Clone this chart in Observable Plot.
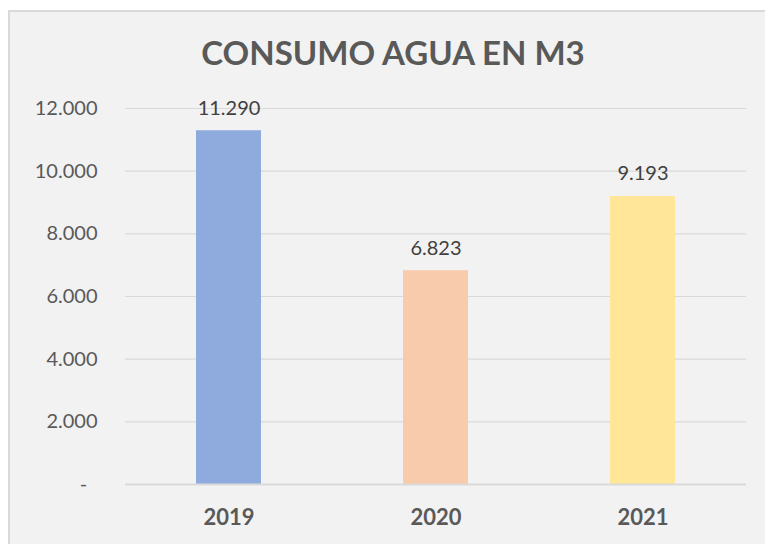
<!DOCTYPE html>
<html>
<head>
<meta charset="utf-8">
<script src="https://cdn.jsdelivr.net/npm/d3@7"></script>
<script src="https://cdn.jsdelivr.net/npm/@observablehq/plot@0.6"></script>
<style>
  html, body { margin: 0; padding: 0; background: #ffffff; }
  #wrap { position: relative; width: 765px; height: 544px; overflow: hidden; background: #ffffff; }
  #panel { position: absolute; left: 8px; top: 10px; width: 820px; height: 600px; background: #f2f2f2; border: 2px solid #d9d9d9; box-sizing: border-box; }
  #title { position: absolute; left: 0; width: 786px; top: 36px; text-align: center; font-family: Lato, "Open Sans", sans-serif; font-weight: 700; font-size: 33px; line-height: 33px; color: #595959; z-index: 2; }
  #chart { position: absolute; left: 0; top: 0; z-index: 1; }
</style>
</head>
<body>
<div id="wrap">
  <div id="panel"></div>
  <div id="title">CONSUMO AGUA EN M3</div>
  <div id="chart"></div>
</div>
<script>
const years = ["2019", "2020", "2021"];
const consumo = [11290, 6823, 9193];
const colores = ["#8faadc", "#f8cbad", "#ffe699"];
const yTicks = [0, 2000, 4000, 6000, 8000, 10000, 12000];

const data = years.map((y, i) => ({year: y, value: consumo[i], color: colores[i]}));
const fmt = d3.formatLocale({decimal: ",", thousands: ".", grouping: [3], currency: ["", ""]}).format(",.0f");
const yFmt = d => d === 0 ? "-\u00a0\u00a0" : fmt(d);

const chart = Plot.plot({
  width: 765,
  height: 544,
  marginLeft: 125,
  marginRight: 19,
  marginTop: 108,
  marginBottom: 60,
  style: {background: "transparent", fontFamily: "Lato, 'Open Sans', sans-serif", color: "#595959"},
  x: {domain: years, paddingInner: 0.686, paddingOuter: 0.343, label: null},
  y: {domain: [0, 12000], label: null},
  marks: [
    Plot.ruleY(yTicks.filter(d => d > 0), {stroke: "#d9d9d9", strokeWidth: 1.2}),
    Plot.barY(data, {x: "year", y: "value", fill: "color"}),
    Plot.ruleY([0], {stroke: "#d9d9d9", strokeWidth: 2}),
    Plot.text(data, {x: "year", y: "value", text: d => fmt(d.value), dy: -16, lineAnchor: "bottom", fill: "#404040", fontSize: 20}),
    Plot.axisY({ticks: yTicks, tickFormat: yFmt, tickSize: 0, tickPadding: 28, fontSize: 20, fill: "#595959", label: null}),
    Plot.axisX({tickSize: 0, tickPadding: 25, fontSize: 22, fontWeight: "bold", fill: "#595959", label: null})
  ]
});
document.getElementById("chart").appendChild(chart);
</script>
</body>
</html>
